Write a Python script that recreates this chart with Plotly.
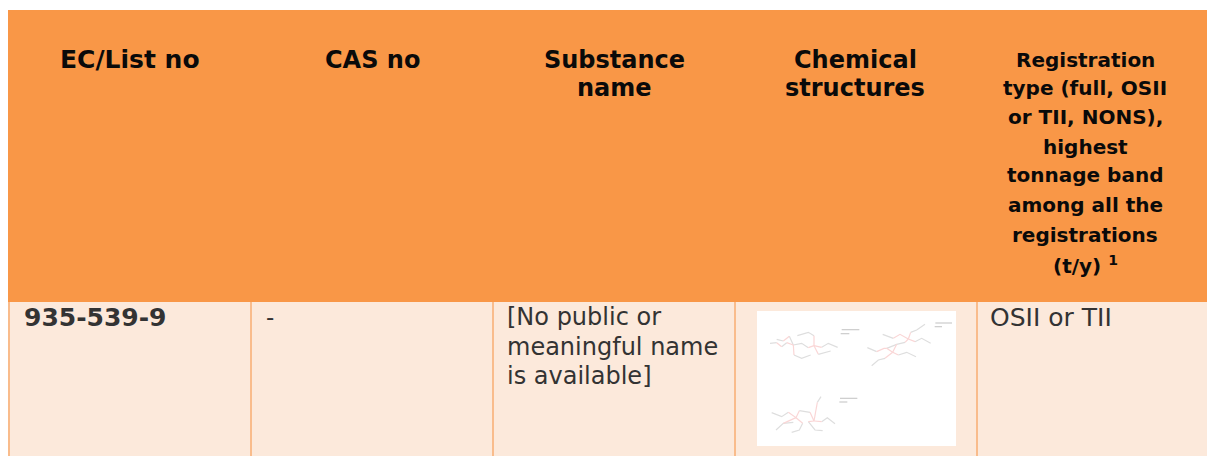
import plotly.graph_objects as go

W, H = 1207, 456

# header lines per column
header_lines = [
    ["EC/List no"],
    ["CAS no"],
    ["Substance", "name"],
    ["Chemical", "structures"],
    ["Registration", "type (full, OSII", "or TII, NONS),", "highest", "tonnage band",
     "among all the", "registrations", "(t/y) <sup>1</sup>"],
]
header_centers = [130, 372, 614, 855, 1085]
header_sizes = [25, 24, 24, 24, 20]
header_line_y = [60, 88, 117, 147, 175, 205, 235, 265]

# body row
row_lines = [
    ["<b>935-539-9</b>"],
    ["-"],
    ["[No public or", "meaningful name", "is available]"],
    [],
    ["OSII or TII"],
]
row_left = [24, 266, 507, 749, 990]
row_sizes = [25, 23, 24, 24, 25]
row_line_y = [317, 347, 376]

col_edges = [9, 251, 493, 735, 977]
table_left, table_top, header_bottom = 8, 10, 302
picture_box = (757, 956, 311, 446)

ORANGE = "#F99747"
PALE = "#FCE9DB"
LINE = "#F9BC8C"
HEAD_TEXT = "#0A0A0A"
BODY_TEXT = "#333333"
FONT = "DejaVu Sans"

# structure sketches (bond chains)
gray_chains = [
    [(90,145),(110,143)],[(125,155),(140,143)],[(110,133),(130,138)],[(148,124),(160,150)],
    [(162,180),(185,190),(212,180)],[(160,150),(185,145),(205,158)],[(222,122),(205,112),(172,122)],
    [(245,157),(265,145),(293,157)],[(235,178),(272,168)],
    [(428,118),(460,130)],[(512,112),(530,105),(555,88)],[(525,140),(545,130),(572,145)],
    [(382,158),(410,170)],[(440,160),(470,148),(495,142)],[(395,212),(415,195),(435,190)],
    [(475,180),(500,172),(528,185)],
    [(95,353),(125,365),(145,352)],[(108,405),(130,385),(160,382)],[(155,412),(178,405),(188,385)],
    [(205,380),(225,405),(248,407)],[(178,347),(210,352)],[(232,322),(243,305)],[(245,380),(262,368),(285,386)],
]
pink_chains = [
    [(110,143),(125,155)],[(140,143),(160,150)],[(130,138),(148,124)],[(160,150),(162,180)],
    [(205,158),(222,152)],[(222,152),(222,122)],[(222,152),(245,157)],[(222,152),(235,178)],
    [(460,130),(480,118),(505,132)],[(505,132),(512,112)],[(505,132),(525,140)],[(505,132),(495,142)],
    [(410,170),(432,160),(440,160)],[(440,160),(458,172)],[(458,172),(435,190)],[(458,172),(475,180)],[(458,172),(470,148)],
    [(145,352),(168,368),(178,347)],[(168,368),(130,385)],[(168,368),(188,385)],
    [(210,352),(222,378)],[(222,378),(232,322)],[(222,378),(205,380)],[(222,378),(245,380)],
]
note_marks = [
    [(305,104),(358,104)],[(302,116),(328,116)],
    [(586,84),(636,84)],[(584,95),(606,95)],
    [(300,310),(352,310)],[(298,321),(322,321)],
]

def flatten(chains):
    xs, ys = [], []
    for c in chains:
        for x, y in c:
            xs.append(x); ys.append(y)
        xs.append(None); ys.append(None)
    return xs, ys

px = lambda v: v / W
py = lambda v: (H - v) / H

fig = go.Figure()
for chains, color, width in [(gray_chains, "#DEDEDE", 1.2), (pink_chains, "#FAD6D6", 1.2), (note_marks, "#CCCCCC", 1.2)]:
    xs, ys = flatten(chains)
    fig.add_trace(go.Scatter(x=xs, y=ys, mode="lines", line=dict(color=color, width=width),
                             hoverinfo="skip", showlegend=False))

shapes = [
    dict(type="rect", xref="paper", yref="paper", layer="below", line_width=0, fillcolor=ORANGE,
         x0=px(table_left), x1=1, y0=py(header_bottom), y1=py(table_top)),
    dict(type="rect", xref="paper", yref="paper", layer="below", line_width=0, fillcolor=PALE,
         x0=px(table_left), x1=1, y0=0, y1=py(header_bottom)),
    dict(type="rect", xref="paper", yref="paper", layer="below", line_width=0, fillcolor="white",
         x0=px(picture_box[0]), x1=px(picture_box[1]), y0=py(picture_box[3]), y1=py(picture_box[2])),
]
for e in col_edges:
    shapes.append(dict(type="line", xref="paper", yref="paper", layer="below",
                       x0=px(e), x1=px(e), y0=0, y1=py(header_bottom),
                       line=dict(color=LINE, width=2)))

annotations = []
for lines, cx, size in zip(header_lines, header_centers, header_sizes):
    for text, y in zip(lines, header_line_y):
        annotations.append(dict(text=f"<b>{text}</b>", x=px(cx), y=py(y), xref="paper", yref="paper",
                                xanchor="center", yanchor="middle", showarrow=False,
                                font=dict(family=FONT, size=size, color=HEAD_TEXT)))
for lines, lx, size in zip(row_lines, row_left, row_sizes):
    for text, y in zip(lines, row_line_y):
        annotations.append(dict(text=text, x=px(lx), y=py(y), xref="paper", yref="paper",
                                xanchor="left", yanchor="middle", showarrow=False, borderpad=0, borderwidth=0,
                                font=dict(family=FONT, size=size, color=BODY_TEXT)))

fig.update_layout(
    width=W, height=H, margin=dict(l=0, r=0, t=0, b=0), showlegend=False,
    paper_bgcolor="white", plot_bgcolor="rgba(0,0,0,0)",
    xaxis=dict(domain=[px(picture_box[0]), px(picture_box[1])], range=[51, 648], visible=False, fixedrange=True),
    yaxis=dict(domain=[py(picture_box[3]), py(picture_box[2])], range=[453, 48], visible=False, fixedrange=True),
    shapes=shapes, annotations=annotations,
)
fig.write_html("out.html", config=dict(displayModeBar=False), post_script="document.body.style.margin='0';")
